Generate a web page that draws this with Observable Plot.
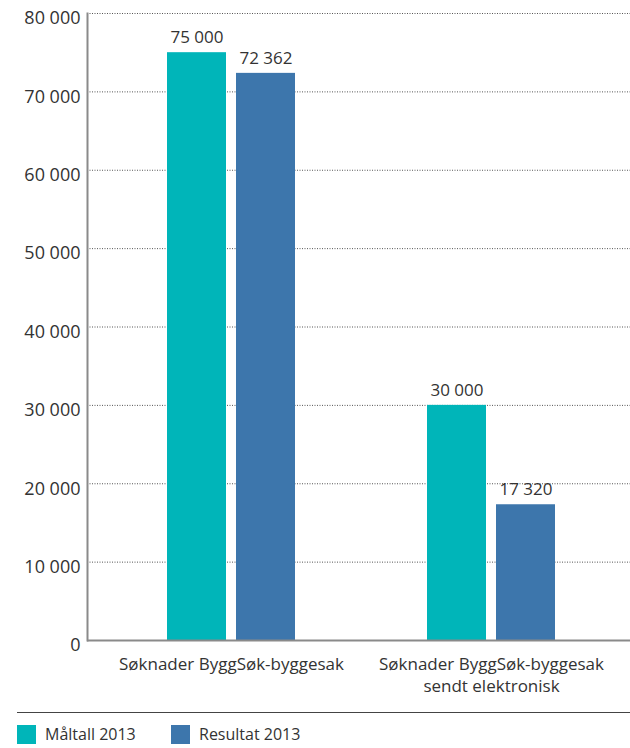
<!DOCTYPE html>
<html>
<head>
<meta charset="utf-8">
<script src="https://cdn.jsdelivr.net/npm/d3@7"></script>
<script src="https://cdn.jsdelivr.net/npm/@observablehq/plot@0.6"></script>
<style>
  html, body { margin: 0; padding: 0; background: #fff; }
  body { width: 630px; height: 748px; overflow: hidden; font-family: "Open Sans", sans-serif; color: #333; }
  #legend { margin-left: 17px; border-top: 1.5px solid #444; margin-top: 12px; padding-top: 10px; display: flex; gap: 0; }
  .item { display: flex; align-items: center; font-size: 16px; color: #333; }
  .sw { width: 19px; height: 19px; margin-right: 9px; }
</style>
</head>
<body>
<div id="chart"></div>
<div id="legend"></div>
<script>
const categories = ["Søknader ByggSøk-byggesak", "Søknader ByggSøk-byggesak\nsendt elektronisk"];
const seriesNames = ["Måltall 2013", "Resultat 2013"];
const maltall = [75000, 30000];
const resultat = [72362, 17320];
const yTicks = [0, 10000, 20000, 30000, 40000, 50000, 60000, 70000, 80000];
const colors = ["#00b5b9", "#3d76ac"];

const fmt = v => d3.format(",")(v).replace(/,/g, " ");

const data = categories.flatMap((c, i) => [
  {category: c, series: seriesNames[0], value: maltall[i]},
  {category: c, series: seriesNames[1], value: resultat[i]}
]);
const dA = data.filter(d => d.series === seriesNames[0]);
const dB = data.filter(d => d.series === seriesNames[1]);

const chart = Plot.plot({
  width: 630,
  height: 700,
  marginTop: 13,
  marginBottom: 60,
  marginLeft: 87,
  marginRight: 0,
  style: {fontFamily: "Open Sans, sans-serif", fontSize: "16px", color: "#333", background: "#fff"},
  x: {domain: categories, paddingInner: 0.5, paddingOuter: 0.294, align: 0.516, label: null},
  y: {domain: [0, 80000], label: null},
  color: {domain: seriesNames, range: colors},
  marks: [
    Plot.gridY(yTicks.filter(t => t > 0), {stroke: "#555", strokeOpacity: 1, strokeDasharray: "1,1.5"}),
    Plot.barY(dA, {x: "category", y: "value", fill: "series", insetLeft: 1, insetRight: 70}),
    Plot.barY(dB, {x: "category", y: "value", fill: "series", insetLeft: 70, insetRight: 1}),
    Plot.text(dA, {x: "category", y: "value", text: d => fmt(d.value), dx: -34.5, dy: -15, fontSize: 17, fill: "#333"}),
    Plot.text(dB, {x: "category", y: "value", text: d => fmt(d.value), dx: 34.5, dy: -15, fontSize: 17, fill: "#333"}),
    Plot.axisY({ticks: yTicks, tickFormat: fmt, tickSize: 0, tickPadding: 7, dy: 5, fontSize: 18, fill: "#333"}),
    Plot.axisX({tickSize: 0, tickPadding: 14, fontSize: 17, fill: "#333", lineHeight: 1.3}),
    Plot.frame({anchor: "left", stroke: "#8a8a8a", strokeWidth: 2}),
    Plot.ruleY([0], {stroke: "#8a8a8a", strokeWidth: 2})
  ]
});
document.getElementById("chart").appendChild(chart);

const legend = document.getElementById("legend");
seriesNames.forEach((s, i) => {
  const item = document.createElement("div");
  item.className = "item";
  item.style.width = i === 0 ? "154px" : "auto";
  const sw = document.createElement("div");
  sw.className = "sw";
  sw.style.background = colors[i];
  const t = document.createElement("span");
  t.textContent = s;
  item.appendChild(sw);
  item.appendChild(t);
  legend.appendChild(item);
});
</script>
</body>
</html>
